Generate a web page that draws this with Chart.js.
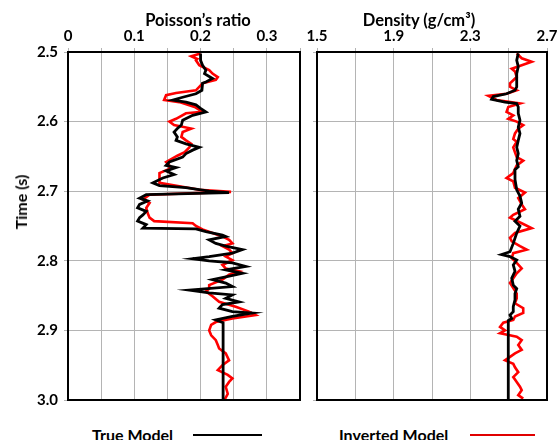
<!DOCTYPE html>
<html>
<head>
<meta charset="utf-8">
<script src="https://cdn.jsdelivr.net/npm/chart.js@4/dist/chart.umd.min.js"></script>
<style>
  html, body { margin: 0; padding: 0; background: #fff; }
  body { width: 558px; height: 440px; position: relative; overflow: hidden; font-family: Lato, "Open Sans", sans-serif; font-weight: bold; color: #000; }
  canvas { position: absolute; top: 0; }
  .lbl { position: absolute; white-space: nowrap; font-size: 16px; line-height: 18px; }
  .line { position: absolute; height: 0; }
</style>
</head>
<body>
<canvas id="c1" width="310" height="410" style="left:0px"></canvas>
<canvas id="c2" width="258" height="410" style="left:300px"></canvas>
<div class="lbl" id="t1" style="left:198px; top:11px; transform:translateX(-50%); font-size:16.5px;">Poisson’s ratio</div>
<div class="lbl" id="t2" style="left:419px; top:11px; transform:translateX(-50%); font-size:16.5px;">Density (g/cm³)</div>
<div class="lbl" id="ty" style="left:21px; top:202px; transform:translate(-50%,-50%) rotate(-90deg);">Time (s)</div>
<div class="lbl" style="left:92px; top:426px;">True Model</div>
<div class="line" style="left:193px; top:434px; width:69px; border-top:2px solid #000;"></div>
<div class="lbl" style="left:339px; top:426px;">Inverted Model</div>
<div class="line" style="left:470px; top:434px; width:65px; border-top:2px solid #e00000;"></div>
<script>
// ---- Poisson's ratio, True Model ----
const timePRTrue = [2.502,2.512,2.519,2.526,2.531,2.538,2.543,2.545,2.555,2.560,2.565,2.569,2.572,2.576,2.581,2.586,2.591,2.598,2.605,2.610,2.615,2.622,2.627,2.632,2.637,2.641,2.646,2.651,2.658,2.663,2.666,2.671,2.676,2.681,2.688,2.692,2.695,2.700,2.702,2.705,2.710,2.714,2.719,2.724,2.729,2.734,2.738,2.743,2.748,2.753,2.754,2.758,2.763,2.765,2.770,2.775,2.779,2.784,2.789,2.791,2.794,2.797,2.800,2.803,2.808,2.813,2.818,2.823,2.827,2.832,2.837,2.842,2.846,2.849,2.854,2.859,2.863,2.868,2.873,2.875,2.880,2.885,2.889,3.000];
const prTrue = [0.200,0.200,0.203,0.208,0.206,0.218,0.208,0.203,0.202,0.193,0.173,0.158,0.178,0.193,0.200,0.208,0.188,0.173,0.171,0.165,0.160,0.165,0.163,0.178,0.198,0.188,0.178,0.173,0.153,0.148,0.163,0.148,0.160,0.143,0.128,0.138,0.178,0.213,0.243,0.118,0.108,0.120,0.108,0.105,0.118,0.113,0.108,0.105,0.118,0.113,0.193,0.208,0.233,0.238,0.213,0.223,0.238,0.263,0.248,0.233,0.213,0.188,0.213,0.248,0.268,0.238,0.263,0.238,0.218,0.238,0.248,0.183,0.213,0.248,0.238,0.258,0.233,0.228,0.248,0.278,0.248,0.223,0.234,0.234];
// ---- Poisson's ratio, Inverted Model ----
const timePRInv = [2.502,2.506,2.510,2.512,2.519,2.526,2.531,2.536,2.540,2.545,2.555,2.559,2.562,2.569,2.572,2.579,2.586,2.588,2.596,2.600,2.605,2.610,2.615,2.622,2.627,2.632,2.637,2.644,2.649,2.658,2.663,2.668,2.674,2.681,2.688,2.693,2.698,2.701,2.705,2.712,2.717,2.724,2.731,2.738,2.743,2.746,2.750,2.755,2.760,2.765,2.770,2.775,2.779,2.784,2.789,2.794,2.799,2.806,2.811,2.815,2.820,2.827,2.835,2.840,2.844,2.851,2.859,2.866,2.873,2.878,2.883,2.888,2.892,2.900,2.907,2.914,2.921,2.926,2.933,2.943,2.950,2.957,2.964,2.969,2.974,2.981,2.991,3.000];
const prInv = [0.200,0.186,0.195,0.193,0.198,0.213,0.218,0.226,0.223,0.203,0.193,0.163,0.148,0.145,0.168,0.191,0.203,0.178,0.163,0.153,0.160,0.186,0.173,0.171,0.178,0.186,0.183,0.176,0.165,0.148,0.153,0.153,0.138,0.138,0.138,0.168,0.198,0.246,0.123,0.113,0.123,0.118,0.120,0.123,0.130,0.188,0.193,0.203,0.218,0.233,0.243,0.248,0.233,0.243,0.248,0.238,0.248,0.233,0.238,0.258,0.243,0.233,0.213,0.213,0.208,0.218,0.228,0.253,0.273,0.283,0.248,0.223,0.216,0.213,0.216,0.223,0.226,0.228,0.238,0.243,0.233,0.226,0.241,0.248,0.243,0.238,0.241,0.236];
// ---- Density, True Model ----
const timeDenTrue = [2.502,2.512,2.521,2.531,2.540,2.550,2.555,2.560,2.564,2.568,2.572,2.574,2.579,2.588,2.598,2.608,2.617,2.627,2.637,2.646,2.656,2.665,2.669,2.683,2.698,2.707,2.717,2.726,2.736,2.743,2.750,2.760,2.775,2.787,2.791,2.794,2.799,2.806,2.815,2.825,2.835,2.840,2.847,2.856,2.866,2.873,2.878,2.883,2.886,3.000];
const denTrue = [2.550,2.542,2.550,2.542,2.542,2.542,2.533,2.489,2.420,2.411,2.481,2.542,2.550,2.550,2.559,2.550,2.559,2.550,2.542,2.550,2.542,2.550,2.533,2.533,2.542,2.559,2.568,2.550,2.559,2.533,2.559,2.542,2.524,2.507,2.463,2.507,2.542,2.524,2.533,2.516,2.524,2.542,2.533,2.533,2.524,2.524,2.507,2.516,2.498,2.498];
// ---- Density, Inverted Model ----
const timeDenInv = [2.502,2.509,2.514,2.519,2.524,2.528,2.536,2.545,2.550,2.555,2.560,2.563,2.569,2.574,2.579,2.586,2.591,2.596,2.600,2.605,2.610,2.617,2.625,2.629,2.637,2.644,2.651,2.656,2.663,2.668,2.674,2.681,2.686,2.695,2.702,2.710,2.719,2.726,2.734,2.738,2.746,2.753,2.760,2.767,2.772,2.779,2.784,2.789,2.796,2.803,2.811,2.818,2.825,2.832,2.839,2.847,2.854,2.861,2.868,2.875,2.880,2.885,2.889,2.895,2.900,2.904,2.909,2.914,2.921,2.928,2.933,2.938,2.943,2.948,2.953,2.960,2.967,2.974,2.981,2.986,2.993,2.998];
const denInv = [2.542,2.568,2.620,2.568,2.516,2.533,2.542,2.507,2.507,2.542,2.489,2.394,2.437,2.559,2.498,2.489,2.524,2.498,2.542,2.576,2.550,2.533,2.524,2.542,2.524,2.533,2.542,2.576,2.542,2.533,2.524,2.489,2.524,2.533,2.585,2.550,2.568,2.585,2.524,2.507,2.568,2.620,2.533,2.507,2.516,2.559,2.594,2.524,2.516,2.542,2.568,2.542,2.524,2.507,2.524,2.542,2.542,2.533,2.576,2.576,2.533,2.524,2.472,2.455,2.481,2.455,2.542,2.568,2.550,2.568,2.533,2.507,2.481,2.524,2.533,2.550,2.524,2.542,2.559,2.568,2.550,2.576];
// ---- axes ----
const timeTicks = [2.5, 2.6, 2.7, 2.8, 2.9, 3.0];
const timeTickLabels = ['2.5', '2.6', '2.7', '2.8', '2.9', '3.0'];
const prTicks = [0, 0.1, 0.2, 0.3];
const prTickLabels = ['0', '0.1', '0.2', '0.3'];
const denTicks = [1.5, 1.9, 2.3, 2.7];
const denTickLabels = ['1.5', '1.9', '2.3', '2.7'];

function pts(xs, ys) { return xs.map((x, i) => ({ x: x, y: ys[i] })); }

const tickFont = { family: 'Lato, "Open Sans", sans-serif', size: 15, weight: 'bold' };
const gridColor = '#b4b4b4';

const frame = {
  id: 'frame',
  afterDatasetsDraw(chart) {
    const a = chart.chartArea, c = chart.ctx;
    c.save();
    c.strokeStyle = '#000';
    c.lineWidth = 2;
    c.strokeRect(a.left, a.top, a.right - a.left, a.bottom - a.top);
    c.restore();
  }
};

function labelOnly(vals, texts) {
  return function (v) {
    const i = vals.findIndex(t => Math.abs(t - v) < 1e-6);
    return i < 0 ? '' : texts[i];
  };
}

function makeChart(id, trueData, invData, xmin, xmax, xstep, xVals, xTexts, yWidth, rightPad, showY) {
  return new Chart(document.getElementById(id), {
    type: 'scatter',
    data: {
      datasets: [
        { label: 'True Model', data: trueData, showLine: true, borderColor: '#000', borderWidth: 2.8, pointRadius: 0, tension: 0, fill: false },
        { label: 'Inverted Model', data: invData, showLine: true, borderColor: '#ff0000', borderWidth: 2.6, pointRadius: 0, tension: 0, fill: false }
      ]
    },
    options: {
      responsive: false, animation: false, devicePixelRatio: 1,
      layout: { padding: { top: 0, right: rightPad, bottom: 10, left: 0 } },
      plugins: { legend: { display: false }, tooltip: { enabled: false } },
      scales: {
        x: {
          type: 'linear', position: 'top', min: xmin, max: xmax,
          ticks: { stepSize: xstep, autoSkip: false, maxRotation: 0, color: '#000', font: tickFont, padding: 3,
                   callback: labelOnly(xVals, xTexts) },
          grid: { color: gridColor, lineWidth: 1, tickLength: 4 },
          border: { display: false },
          afterFit(s) { s.height = 52; s.paddingLeft = 0; s.paddingRight = 0; }
        },
        y: {
          type: 'linear', reverse: true, min: 2.5, max: 3.0,
          ticks: { stepSize: 0.1, display: showY, color: '#000', font: tickFont, padding: 6,
                   callback: labelOnly(timeTicks, timeTickLabels) },
          grid: { color: gridColor, lineWidth: 1, tickLength: 4 },
          border: { display: false },
          afterFit(s) { s.width = yWidth; s.paddingTop = 0; s.paddingBottom = 0; }
        }
      }
    },
    plugins: [frame]
  });
}

makeChart('c1', pts(prTrue, timePRTrue), pts(prInv, timePRInv), 0, 0.35, 0.05, prTicks, prTickLabels, 68, 10, true);
makeChart('c2', pts(denTrue, timeDenTrue), pts(denInv, timeDenInv), 1.5, 2.7, 0.2, denTicks, denTickLabels, 17, 11, false);
</script>
</body>
</html>
